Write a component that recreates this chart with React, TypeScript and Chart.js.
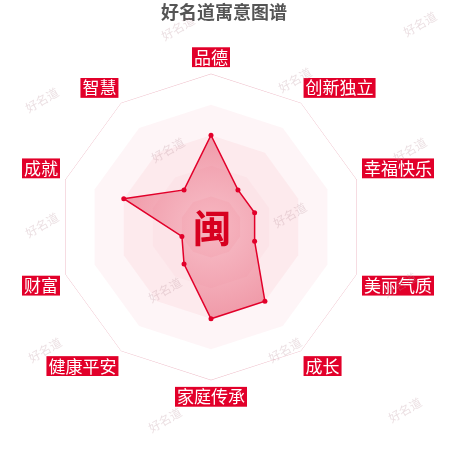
import React, { useEffect, useRef } from 'react';
import { Chart, registerables } from 'chart.js';

Chart.register(...registerables);

const labels = ['品德', '创新独立', '幸福快乐', '美丽气质', '成长', '家庭传承', '健康平安', '财富', '成就', '智慧'];
const scores = [60, 30, 30, 30, 60, 60, 30, 20, 60, 30];
const centerChar = '闽';
const titleText = '好名道寓意图谱';
const watermark = '好名道';

const RED = '#e2002a';
const FONT = '"Noto Sans CJK SC", "Noto Sans", sans-serif';

// title, watermarks, grid bands and the big character in the middle
const decorPlugin = {
  id: 'decor',
  beforeDatasetsDraw(chart: any) {
    const { ctx } = chart;
    const r = chart.scales.r;
    const n = labels.length;
    // alternating split areas
    const bands = [0.06, 0.03, 0.06, 0.05, 0];
    for (let b = bands.length - 1; b >= 0; b--) {
      const outer = r.getDistanceFromCenterForValue((b + 1) * 20);
      ctx.save();
      ctx.beginPath();
      for (let i = 0; i < n; i++) {
        const p = r.getPointPosition(i, outer);
        if (i === 0) ctx.moveTo(p.x, p.y);
        else ctx.lineTo(p.x, p.y);
      }
      ctx.closePath();
      ctx.fillStyle = b === bands.length - 1 ? '#ffffff' : `rgba(230,60,90,${bands[b]})`;
      ctx.fill();
      ctx.restore();
    }
  },
  afterDraw(chart: any) {
    const { ctx } = chart;
    const r = chart.scales.r;
    ctx.save();
    ctx.font = `bold 18px ${FONT}`;
    ctx.fillStyle = '#555555';
    ctx.textAlign = 'center';
    ctx.textBaseline = 'middle';
    ctx.fillText(titleText, 224, 12);

    ctx.font = `bold 38px ${FONT}`;
    ctx.fillStyle = '#d7001f';
    ctx.fillText(centerChar, r.xCenter + 1, r.yCenter + 1);

    const marks = [
      [178, 28], [420, 24], [42, 100], [295, 80], [168, 150], [410, 150],
      [290, 215], [42, 225], [165, 290], [400, 285], [45, 350], [285, 350],
      [165, 420], [405, 410],
    ];
    ctx.font = `12px ${FONT}`;
    ctx.fillStyle = 'rgba(190,150,160,0.3)';
    marks.forEach(([x, y]) => {
      ctx.save();
      ctx.translate(x, y);
      ctx.rotate(-Math.PI / 6);
      ctx.fillText(watermark, 0, 0);
      ctx.restore();
    });
    ctx.restore();
  },
};

const App: React.FC = () => {
  const canvasRef = useRef<HTMLCanvasElement | null>(null);

  useEffect(() => {
    if (!canvasRef.current) return;
    const ctx = canvasRef.current.getContext('2d');
    if (!ctx) return;

    const chart = new Chart(ctx, {
      type: 'radar',
      data: {
        labels,
        datasets: [
          {
            data: scores,
            borderColor: RED,
            borderWidth: 1.5,
            pointRadius: 2.5,
            pointBackgroundColor: RED,
            pointBorderWidth: 0,
            fill: true,
            backgroundColor: (c: any) => {
              const r = c.chart.scales.r;
              if (!r || !r.xCenter) return 'rgba(230,0,38,0.3)';
              const g = c.chart.ctx.createRadialGradient(r.xCenter, r.yCenter, 0, r.xCenter, r.yCenter, r.drawingArea);
              g.addColorStop(0, 'rgba(230,60,90,0.22)');
              g.addColorStop(1, 'rgba(215,30,60,0.55)');
              return g;
            },
          },
        ],
      },
      options: {
        responsive: false,
        animation: false,
        layout: { padding: { left: 9, right: 0, top: 36, bottom: 30 } },
        plugins: {
          legend: { display: false },
          tooltip: { enabled: false },
        },
        scales: {
          r: {
            min: 0,
            max: 100,
            ticks: { stepSize: 20, display: false },
            grid: { color: 'rgba(225,140,160,0.55)', lineWidth: 1, borderDash: [1, 2] },
            angleLines: { color: 'rgba(225,170,180,0.55)', lineWidth: 1 },
            pointLabels: {
              color: '#ffffff',
              font: { family: FONT, size: 17, lineHeight: 1.05 },
              backdropColor: RED,
              backdropPadding: { top: 1, bottom: 1, left: 2, right: 2 },
              padding: 8,
            },
          },
        },
      },
      plugins: [decorPlugin],
    });

    return () => chart.destroy();
  }, []);

  return (
    <div style={{ position: 'fixed', left: 0, top: 0, width: 450, height: 450, background: '#fff' }}>
      <canvas ref={canvasRef} width={450} height={450} style={{ width: 450, height: 450 }} />
    </div>
  );
};

export default App;
